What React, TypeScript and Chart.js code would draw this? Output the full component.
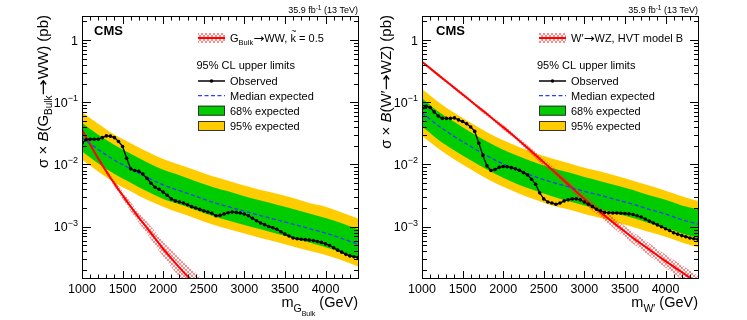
import React, { useEffect, useRef } from "react";
import { Chart, registerables } from "chart.js";
Chart.register(...registerables);

const FONT = '"Liberation Sans", Arial, Helvetica, sans-serif';
const ARROW_FONT = '"DejaVu Sans", "Liberation Sans", sans-serif';
Chart.defaults.font.family = FONT;

// ---------------- data ----------------
const massObs = [
  1000, 1050, 1100, 1150, 1200, 1250, 1300, 1350, 1400, 1450, 1500, 1550, 1600, 1650, 1700, 1750, 1800,
  1850, 1900, 1950, 2000, 2050, 2100, 2150, 2200, 2250, 2300, 2350, 2400, 2450, 2500, 2550, 2600, 2650,
  2700, 2750, 2800, 2850, 2900, 2950, 3000, 3050, 3100, 3150, 3200, 3250, 3300, 3350, 3400, 3450, 3500,
  3550, 3600, 3650, 3700, 3750, 3800, 3850, 3900, 3950, 4000, 4050, 4100, 4150, 4200, 4250, 4300, 4350, 4400,
];
const massExp = [1000, 1200, 1400, 1600, 1800, 2000, 2200, 2400, 2600, 2800, 3000, 3200, 3400, 3600, 3800, 4000, 4200, 4400];

// Left panel: G_Bulk -> WW
const wwObserved = [
  0.022, 0.025, 0.0255, 0.0255, 0.0255, 0.027, 0.0288, 0.0285, 0.027, 0.0234, 0.0195, 0.0126, 0.0085, 0.008,
  0.0078, 0.007, 0.006, 0.005, 0.0043, 0.004, 0.0036, 0.0032, 0.0028, 0.0026, 0.0025, 0.0024, 0.00225, 0.0021,
  0.002, 0.0019, 0.0018, 0.00172, 0.00165, 0.0015, 0.00152, 0.0016, 0.00168, 0.00172, 0.0017, 0.00166, 0.0016,
  0.0015, 0.00137, 0.00125, 0.00115, 0.00108, 0.00101, 0.00096, 0.00091, 0.00083, 0.00076, 0.00071, 0.00066,
  0.00064, 0.00063, 0.00062, 0.00061, 0.0006, 0.00058, 0.00056, 0.00053, 0.0005, 0.00046, 0.00042, 0.00039,
  0.00036, 0.00034, 0.00033, 0.00032,
];
const wwMedian = [0.027, 0.0174, 0.0117, 0.0085, 0.0062, 0.0047, 0.0038, 0.0031, 0.0025, 0.0021, 0.00178, 0.00151, 0.00129, 0.0011, 0.00093, 0.00079, 0.00065, 0.00052];
const wwPlus1 = [0.047, 0.03, 0.0205, 0.0149, 0.0109, 0.0082, 0.0067, 0.0054, 0.0044, 0.0037, 0.0031, 0.00264, 0.00226, 0.00193, 0.00163, 0.00138, 0.00114, 0.00091];
const wwMinus1 = [0.0162, 0.0104, 0.007, 0.0051, 0.0037, 0.0028, 0.0023, 0.00186, 0.0015, 0.00126, 0.00107, 0.00091, 0.00077, 0.00066, 0.00056, 0.00047, 0.00039, 0.00031];
const wwPlus2 = [0.07, 0.045, 0.03, 0.022, 0.0161, 0.0122, 0.0099, 0.0081, 0.0065, 0.0055, 0.0046, 0.0039, 0.0034, 0.0029, 0.0024, 0.0021, 0.0017, 0.00135];
const wwMinus2 = [0.0119, 0.0077, 0.0051, 0.0037, 0.0027, 0.0021, 0.00167, 0.00136, 0.0011, 0.00092, 0.00078, 0.00066, 0.00057, 0.00048, 0.00041, 0.00035, 0.00029, 0.00023];
const wwSigMass = [1000, 1100, 1200, 1300, 1400, 1500, 1600, 1700, 1800, 1900, 2000, 2100, 2200, 2300, 2400, 2500];
const wwSignal = [0.036, 0.021, 0.0125, 0.0077, 0.0049, 0.0032, 0.0021, 0.0014, 0.00096, 0.00065, 0.00044, 0.00031, 0.00022, 0.00016, 0.00012, 0.000085];
const wwSigUp = [0.0378, 0.0223, 0.0135, 0.00847, 0.00549, 0.00368, 0.00248, 0.00169, 0.0012, 0.00084, 0.000585, 0.000425, 0.000312, 0.000235, 0.000182, 0.000133];
const wwSigDown = [0.0343, 0.0198, 0.0116, 0.007, 0.00438, 0.00278, 0.00178, 0.00116, 0.000768, 0.000504, 0.000331, 0.000226, 0.000155, 0.000109, 0.000079, 0.000054];

// Right panel: W' -> WZ
const wzObserved = [
  0.08, 0.086, 0.082, 0.07, 0.06, 0.055, 0.055, 0.055, 0.056, 0.052, 0.049, 0.045, 0.04, 0.034, 0.022, 0.014,
  0.0095, 0.008, 0.0083, 0.009, 0.0093, 0.0092, 0.0089, 0.0085, 0.0081, 0.0074, 0.0068, 0.0058, 0.0048, 0.0035,
  0.0028, 0.0025, 0.0024, 0.0023, 0.0024, 0.0026, 0.0027, 0.0028, 0.0028, 0.0027, 0.0025, 0.0023, 0.0021, 0.0019,
  0.0018, 0.0017, 0.00168, 0.00166, 0.00166, 0.00165, 0.00163, 0.00161, 0.00157, 0.0015, 0.00143, 0.00133,
  0.00123, 0.00115, 0.00107, 0.001, 0.00093, 0.00087, 0.0008, 0.00076, 0.00072, 0.00069, 0.00066, 0.00064, 0.00063,
];
const wzMedian = [0.068, 0.042, 0.028, 0.0195, 0.0138, 0.0102, 0.0079, 0.0063, 0.0052, 0.0044, 0.0037, 0.0032, 0.0027, 0.0023, 0.0019, 0.0016, 0.0013, 0.0011];
const wzPlus1 = [0.116, 0.071, 0.048, 0.033, 0.0235, 0.0173, 0.0134, 0.0107, 0.0088, 0.0075, 0.0063, 0.0054, 0.0046, 0.0039, 0.0032, 0.0027, 0.0022, 0.0019];
const wzMinus1 = [0.041, 0.025, 0.0168, 0.0117, 0.0083, 0.0061, 0.0047, 0.0038, 0.0031, 0.0026, 0.0022, 0.0019, 0.00162, 0.00138, 0.00114, 0.00096, 0.00078, 0.00066];
const wzPlus2 = [0.163, 0.101, 0.067, 0.047, 0.033, 0.0245, 0.019, 0.0151, 0.0125, 0.0106, 0.0089, 0.0077, 0.0065, 0.0055, 0.0046, 0.0038, 0.0031, 0.0026];
const wzMinus2 = [0.029, 0.018, 0.012, 0.0084, 0.0059, 0.0044, 0.0034, 0.0027, 0.0022, 0.0019, 0.0016, 0.00138, 0.00116, 0.00099, 0.00082, 0.00069, 0.00056, 0.00047];
const wzSigMass = massExp;
const wzSignal = [0.447, 0.275, 0.17, 0.105, 0.0646, 0.0398, 0.024, 0.0141, 0.0083, 0.0048, 0.0028, 0.0017, 0.00105, 0.00066, 0.00043, 0.00028, 0.000186, 0.000123];
const wzSigUp = [0.465, 0.289, 0.18, 0.112, 0.0698, 0.0434, 0.0264, 0.0158, 0.00946, 0.00557, 0.0033, 0.00204, 0.00128, 0.000818, 0.000542, 0.000358, 0.000242, 0.000162];
const wzSigDown = [0.43, 0.262, 0.16, 0.098, 0.0598, 0.0365, 0.0218, 0.0126, 0.00728, 0.00414, 0.00237, 0.00142, 0.00086, 0.000532, 0.000341, 0.000219, 0.000143, 0.0000932];

// axes
const xTicks = [1000, 1500, 2000, 2500, 3000, 3500, 4000];
const yTicks = [0.001, 0.01, 0.1, 1];
const yTickExp = ["−3", "−2", "−1", ""];
const X_MIN = 1000;
const X_MAX = 4400;
const Y_MIN = 1.5e-4;
const Y_MAX = 2.43;

const legendTexts = ["Observed", "Median expected", "68% expected", "95% expected"];
const legendHeader = "95% CL upper limits";

// ---------------- helpers ----------------
type Run = { t: string; size: number; dy?: number; italic?: boolean; bold?: boolean; tilde?: boolean; family?: string; sx?: number };

function fontOf(r: Run) {
  return `${r.italic ? "italic " : ""}${r.bold ? "bold " : ""}${r.size}px ${r.family || FONT}`;
}
function runW(ctx: CanvasRenderingContext2D, r: Run) {
  ctx.font = fontOf(r);
  return ctx.measureText(r.t).width * (r.sx || 1);
}
function runsWidth(ctx: CanvasRenderingContext2D, runs: Run[]) {
  let w = 0;
  for (const r of runs) w += runW(ctx, r);
  return w;
}
function drawRuns(ctx: CanvasRenderingContext2D, runs: Run[], x: number, y: number) {
  let cx = x;
  ctx.textAlign = "left";
  ctx.textBaseline = "alphabetic";
  for (const r of runs) {
    const w = runW(ctx, r);
    ctx.font = fontOf(r);
    if (r.sx && r.sx !== 1) {
      ctx.save();
      ctx.translate(cx, y + (r.dy || 0));
      ctx.scale(r.sx, 1);
      ctx.fillText(r.t, 0, 0);
      ctx.restore();
    } else {
      ctx.fillText(r.t, cx, y + (r.dy || 0));
    }
    if (r.tilde) {
      ctx.font = `${r.size * 0.8}px ${FONT}`;
      const tw = ctx.measureText("~").width;
      ctx.fillText("~", cx + w / 2 - tw / 2 + 0.5, y - r.size * 0.72);
    }
    cx += w;
  }
}
function pts(xs: number[], ys: number[]) {
  return xs.map((x, i) => ({ x, y: ys[i] }));
}
function makeHatch(): CanvasPattern | string {
  const c = document.createElement("canvas");
  c.width = 4;
  c.height = 4;
  const g = c.getContext("2d");
  if (!g) return "rgba(255,0,0,0.3)";
  g.strokeStyle = "rgba(255,40,40,0.55)";
  g.lineWidth = 1;
  g.beginPath();
  g.moveTo(0, 0);
  g.lineTo(4, 4);
  g.moveTo(4, 0);
  g.lineTo(0, 4);
  g.stroke();
  return g.createPattern(c, "repeat") || "rgba(255,0,0,0.3)";
}

interface PanelCfg {
  canvasWidth: number;
  yAxisWidth: number;
  rightPad: number;
  obs: number[];
  med: number[];
  p1: number[];
  m1: number[];
  p2: number[];
  m2: number[];
  sigMass: number[];
  sig: number[];
  sigUp: number[];
  sigDown: number[];
  yTitle: Run[];
  yTitleX: number;
  xTitle: Run[];
  legendSig: Run[];
  legendX: number;
  headerX: number;
  cmsX: number;
}

const YELLOW = "#ffcc00";
const GREEN = "#00cc00";
const BLUE = "#2d3cff";

function makePlugin(cfg: PanelCfg, hatch: CanvasPattern | string) {
  return {
    id: "rootDecor",
    afterDraw(chart: any) {
      const ctx: CanvasRenderingContext2D = chart.ctx;
      const a = chart.chartArea;
      const xs = chart.scales.x;
      const ys = chart.scales.y;
      const L = Math.round(a.left);
      const R = Math.round(a.right);
      const T = Math.round(a.top);
      const B = Math.round(a.bottom);
      ctx.save();
      ctx.fillStyle = "#000";
      ctx.strokeStyle = "#000";
      ctx.lineWidth = 1;
      ctx.setLineDash([]);
      // frame
      ctx.strokeRect(L + 0.5, T + 0.5, R - L, B - T);
      // x ticks (major + minor, top & bottom)
      ctx.beginPath();
      for (let m = X_MIN; m <= X_MAX; m += 100) {
        const px = Math.round(xs.getPixelForValue(m)) + 0.5;
        const len = xTicks.includes(m) ? 7 : 3.5;
        ctx.moveTo(px, B);
        ctx.lineTo(px, B - len);
        ctx.moveTo(px, T + 1);
        ctx.lineTo(px, T + 1 + len);
      }
      // y ticks (log: decades + 2..9)
      for (let d = -4; d <= 0; d++) {
        for (let k = 1; k <= 9; k++) {
          const v = k * Math.pow(10, d);
          if (v < Y_MIN || v > Y_MAX) continue;
          const py = Math.round(ys.getPixelForValue(v)) + 0.5;
          const len = k === 1 ? 8 : 4;
          ctx.moveTo(L + 1, py);
          ctx.lineTo(L + 1 + len, py);
          ctx.moveTo(R, py);
          ctx.lineTo(R - len, py);
        }
      }
      ctx.stroke();

      // y tick labels
      yTicks.forEach((v, i) => {
        const py = ys.getPixelForValue(v);
        const runs: Run[] = v === 1 ? [{ t: "1", size: 12.5 }] : [{ t: "10", size: 12.5 }, { t: yTickExp[i], size: 9, dy: -5.5 }];
        const w = runsWidth(ctx, runs);
        drawRuns(ctx, runs, L - 4 - w, py + 4.5);
      });

      // y title (rotated)
      ctx.save();
      ctx.translate(cfg.yTitleX, T - 1);
      ctx.rotate(-Math.PI / 2);
      const yw = runsWidth(ctx, cfg.yTitle);
      drawRuns(ctx, cfg.yTitle, -yw, 0);
      ctx.restore();

      // x title
      const xw = runsWidth(ctx, cfg.xTitle);
      drawRuns(ctx, cfg.xTitle, R - xw, 307);

      // lumi label
      const lumi: Run[] = [
        { t: "35.9 fb", size: 9 },
        { t: "-1", size: 6.5, dy: -3.5 },
        { t: " (13 TeV)", size: 9 },
      ];
      const lw = runsWidth(ctx, lumi);
      drawRuns(ctx, lumi, R - lw, 13);

      // CMS
      drawRuns(ctx, [{ t: "CMS", size: 13, bold: true }], cfg.cmsX, 35);

      // legend
      const x0 = cfg.legendX;
      const sw = 27;
      const tx = x0 + 32;
      const rows = [38, 65, 81, 95.7, 110.7, 126];
      // signal
      ctx.fillStyle = hatch as any;
      ctx.fillRect(x0, rows[0] - 5, sw, 10);
      ctx.strokeStyle = "#ff0000";
      ctx.lineWidth = 2;
      ctx.beginPath();
      ctx.moveTo(x0, rows[0]);
      ctx.lineTo(x0 + sw, rows[0]);
      ctx.stroke();
      ctx.fillStyle = "#000";
      drawRuns(ctx, cfg.legendSig, tx, rows[0] + 4);
      // header
      drawRuns(ctx, [{ t: legendHeader, size: 11 }], cfg.headerX, rows[1] + 4);
      // observed
      ctx.strokeStyle = "#000";
      ctx.lineWidth = 1.5;
      ctx.beginPath();
      ctx.moveTo(x0, rows[2]);
      ctx.lineTo(x0 + sw, rows[2]);
      ctx.stroke();
      ctx.beginPath();
      ctx.arc(x0 + sw / 2, rows[2], 1.8, 0, Math.PI * 2);
      ctx.fill();
      drawRuns(ctx, [{ t: legendTexts[0], size: 11 }], tx, rows[2] + 4);
      // median
      ctx.strokeStyle = BLUE;
      ctx.lineWidth = 1.3;
      ctx.setLineDash([4, 2.5]);
      ctx.beginPath();
      ctx.moveTo(x0, rows[3]);
      ctx.lineTo(x0 + sw, rows[3]);
      ctx.stroke();
      ctx.setLineDash([]);
      drawRuns(ctx, [{ t: legendTexts[1], size: 11 }], tx, rows[3] + 4);
      // boxes
      ctx.lineWidth = 1;
      ctx.strokeStyle = "#333";
      ctx.fillStyle = GREEN;
      ctx.fillRect(x0, rows[4] - 5, sw, 10);
      ctx.strokeRect(x0 + 0.5, rows[4] - 4.5, sw - 1, 9);
      ctx.fillStyle = YELLOW;
      ctx.fillRect(x0, rows[5] - 5, sw, 10);
      ctx.strokeRect(x0 + 0.5, rows[5] - 4.5, sw - 1, 9);
      ctx.fillStyle = "#000";
      drawRuns(ctx, [{ t: legendTexts[2], size: 11 }], tx, rows[4] + 4);
      drawRuns(ctx, [{ t: legendTexts[3], size: 11 }], tx, rows[5] + 4);
      ctx.restore();
    },
  };
}

function buildConfig(cfg: PanelCfg): any {
  const hatch = makeHatch();
  const band = (data: any, color: any, order: number, fill: any) => ({
    data,
    borderWidth: 0,
    borderColor: "rgba(0,0,0,0)",
    backgroundColor: color,
    pointRadius: 0,
    fill,
    order,
    cubicInterpolationMode: "monotone",
  });
  const datasets = [
    band(pts(massExp, cfg.m2), YELLOW, 10, false),
    band(pts(massExp, cfg.p2), YELLOW, 9, 0),
    band(pts(massExp, cfg.m1), GREEN, 8, false),
    band(pts(massExp, cfg.p1), GREEN, 7, 2),
    band(pts(cfg.sigMass, cfg.sigDown), hatch, 6, false),
    band(pts(cfg.sigMass, cfg.sigUp), hatch, 5, 4),
    {
      data: pts(cfg.sigMass, cfg.sig),
      borderColor: "#ff0000",
      borderWidth: 2,
      pointRadius: 0,
      fill: false,
      order: 4,
      cubicInterpolationMode: "monotone",
    },
    {
      data: pts(massExp, cfg.med),
      borderColor: BLUE,
      borderWidth: 1.3,
      borderDash: [4, 2.5],
      pointRadius: 0,
      fill: false,
      order: 3,
      cubicInterpolationMode: "monotone",
    },
    {
      data: pts(massObs, cfg.obs),
      borderColor: "#000",
      borderWidth: 1.3,
      pointRadius: 1.8,
      pointBackgroundColor: "#000",
      pointBorderWidth: 0,
      fill: false,
      order: 2,
      tension: 0,
    },
  ];
  return {
    type: "line",
    data: { datasets },
    options: {
      responsive: false,
      animation: false,
      events: [],
      layout: { padding: { left: 0, right: cfg.rightPad, top: 16, bottom: 0 } },
      plugins: { legend: { display: false }, tooltip: { enabled: false }, title: { display: false } },
      scales: {
        x: {
          type: "linear",
          min: X_MIN,
          max: X_MAX,
          grid: { display: false, drawTicks: false },
          border: { display: false },
          afterBuildTicks: (s: any) => {
            s.ticks = xTicks.map((v) => ({ value: v }));
          },
          ticks: {
            autoSkip: false,
            maxRotation: 0,
            minRotation: 0,
            color: "#000",
            padding: 4,
            font: { family: FONT, size: 12.5 },
            callback: (v: any) => String(v),
          },
          afterFit: (s: any) => {
            s.height = 42;
          },
        },
        y: {
          type: "logarithmic",
          min: Y_MIN,
          max: Y_MAX,
          grid: { display: false, drawTicks: false },
          border: { display: false },
          ticks: { display: false },
          afterFit: (s: any) => {
            s.width = cfg.yAxisWidth;
          },
        },
      },
    },
    plugins: [makePlugin(cfg, hatch)],
  };
}

const TS = 15;
const leftCfg: PanelCfg = {
  canvasWidth: 374,
  yAxisWidth: 82,
  rightPad: 16,
  obs: wwObserved,
  med: wwMedian,
  p1: wwPlus1,
  m1: wwMinus1,
  p2: wwPlus2,
  m2: wwMinus2,
  sigMass: wwSigMass,
  sig: wwSignal,
  sigUp: wwSigUp,
  sigDown: wwSigDown,
  yTitle: [
    { t: "σ × ", size: TS },
    { t: "B", size: TS, italic: true },
    { t: "(G", size: TS },
    { t: "Bulk", size: 10, dy: 4 },
    { t: "→", size: TS, family: ARROW_FONT, sx: 1.3 },
    { t: "WW) (pb)", size: TS },
  ],
  yTitleX: 47.5,
  xTitle: [
    { t: "m", size: 14.5 },
    { t: "G", size: 10.5, dy: 5 },
    { t: "Bulk", size: 7, dy: 9 },
    { t: " (GeV)", size: 14.5 },
  ],
  legendSig: [
    { t: "G", size: 11 },
    { t: "Bulk", size: 7.5, dy: 3 },
    { t: "→", size: 11, family: ARROW_FONT, sx: 1.2 },
    { t: "WW, ", size: 11 },
    { t: "k", size: 11, tilde: true },
    { t: " = 0.5", size: 11 },
  ],
  legendX: 198,
  headerX: 196.5,
  cmsX: 94,
};

const rightCfg: PanelCfg = {
  canvasWidth: 373,
  yAxisWidth: 48,
  rightPad: 49,
  obs: wzObserved,
  med: wzMedian,
  p1: wzPlus1,
  m1: wzMinus1,
  p2: wzPlus2,
  m2: wzMinus2,
  sigMass: wzSigMass,
  sig: wzSignal,
  sigUp: wzSigUp,
  sigDown: wzSigDown,
  yTitle: [
    { t: "σ × ", size: TS },
    { t: "B", size: TS, italic: true },
    { t: "(W′", size: TS },
    { t: "→", size: TS, family: ARROW_FONT, sx: 1.3 },
    { t: "WZ) (pb)", size: TS },
  ],
  yTitleX: 16.5,
  xTitle: [
    { t: "m", size: 14.5 },
    { t: "W′", size: 10.5, dy: 5 },
    { t: " (GeV)", size: 14.5 },
  ],
  legendSig: [
    { t: "W′", size: 11 },
    { t: "→", size: 11, family: ARROW_FONT, sx: 1.2 },
    { t: "WZ, HVT model B", size: 11 },
  ],
  legendX: 165,
  headerX: 163,
  cmsX: 62,
};

function Panel({ cfg, left }: { cfg: PanelCfg; left: number }) {
  const ref = useRef<HTMLCanvasElement>(null);
  useEffect(() => {
    if (!ref.current) return;
    const chart = new Chart(ref.current, buildConfig(cfg));
    return () => chart.destroy();
  }, []);
  return (
    <div style={{ position: "absolute", left, top: 0, width: cfg.canvasWidth, height: 320 }}>
      <canvas ref={ref} width={cfg.canvasWidth} height={320} style={{ width: cfg.canvasWidth, height: 320, display: "block" }} />
    </div>
  );
}

export default function App() {
  return (
    <div style={{ position: "fixed", left: 0, top: 0, width: 747, height: 320, background: "#fff", overflow: "hidden" }}>
      <Panel cfg={leftCfg} left={0} />
      <Panel cfg={rightCfg} left={374} />
    </div>
  );
}
